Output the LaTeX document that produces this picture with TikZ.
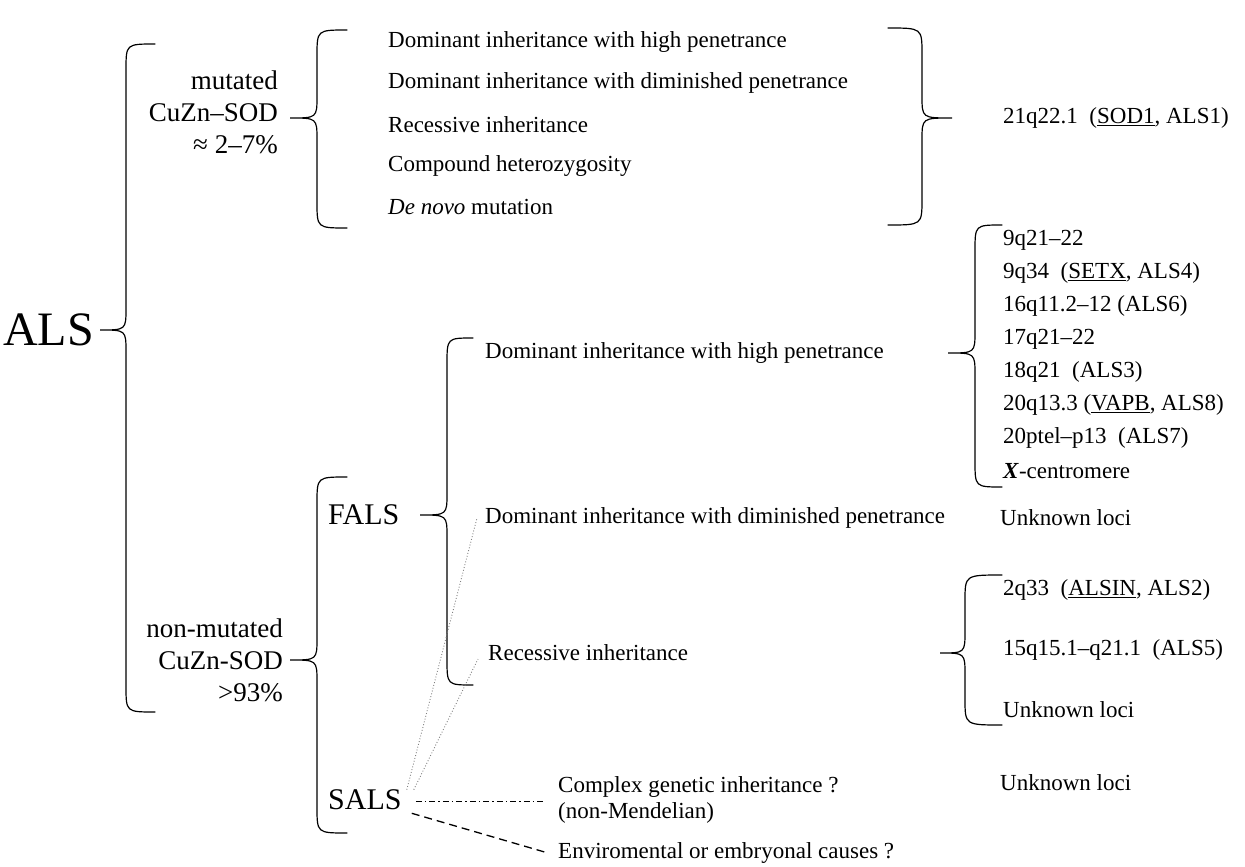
\documentclass[tikz,border=0pt]{standalone}
\usepackage{fontspec}
\setmainfont{Liberation Serif}
\usetikzlibrary{positioning}

% brace: end x, stem x, tip x, top y, tip y, bottom y
\newcommand{\curlybrace}[6]{%
\draw[braceline] (#1,#4) .. controls (#2,#4) .. (#2,#4+26) -- (#2,#5-22) .. controls (#2,#5) .. (#3,#5)
  .. controls (#2,#5) .. (#2,#5+22) -- (#2,#6-26) .. controls (#2,#6) .. (#1,#6);}

\tikzset{
  braceline/.style={line width=1.2pt, line cap=round},
  txt/.style={font=\fontsize{23}{26}\selectfont, inner sep=0pt, anchor=west},
  grp/.style={font=\fontsize{27}{32}\selectfont, inner sep=0pt, anchor=east, align=right},
  cls/.style={font=\fontsize{30}{34}\selectfont, inner sep=0pt, anchor=west},
}

\begin{document}
\begin{tikzpicture}[x=1pt,y=-1pt]
\useasboundingbox (0,0) rectangle (1245,867);

\node[font=\fontsize{48}{52}\selectfont, inner sep=0pt, anchor=west] (als) at (3,330) {ALS};
\curlybrace{155}{126}{100}{44}{330}{712}

% mutated branch
\node[grp] (mut) at (278,112) {mutated\\CuZn–SOD\\≈ 2–7\%};
\curlybrace{347}{317}{290}{30}{118}{228}
\node[txt] (m1) at (388,42) {Dominant inheritance with high penetrance};
\node[txt] (m2) at (388,83) {Dominant inheritance with diminished penetrance};
\node[txt] (m3) at (388,125) {Recessive inheritance};
\node[txt] (m4) at (388,166) {Compound heterozygosity};
\node[txt] (m5) at (388,207) {\textit{De novo} mutation};
\curlybrace{888}{922}{952}{28}{118}{225}
\node[txt] (sod) at (1003,118) {21q22.1\ \ (\underline{SOD1}, ALS1)};

% non-mutated branch
\node[grp] (nonmut) at (283,660) {non-mutated\\CuZn-SOD\\>93\%};
\curlybrace{347}{317}{290}{477}{660}{833}
\node[cls] (fals) at (328,515) {FALS};
\node[cls] (sals) at (328,800) {SALS};
\curlybrace{473}{447}{420}{338}{515}{685}

\node[txt] (hp) at (485,353) {Dominant inheritance with high penetrance};
\curlybrace{1002}{975}{948}{225}{353}{487}
\node[txt] (l1) at (1003,240) {9q21–22};
\node[txt] (l2) at (1003,273) {9q34\ \ (\underline{SETX}, ALS4)};
\node[txt] (l3) at (1003,306) {16q11.2–12 (ALS6)};
\node[txt] (l4) at (1003,339) {17q21–22};
\node[txt] (l5) at (1003,372) {18q21\ \ (ALS3)};
\node[txt] (l6) at (1003,405) {20q13.3 (\underline{VAPB}, ALS8)};
\node[txt] (l7) at (1003,438) {20ptel–p13\ \ (ALS7)};
\node[txt] (l8) at (1003,471) {\textbf{\textit{X}}-centromere};

\node[txt] (dp) at (485,518) {Dominant inheritance with diminished penetrance};
\node[txt] (dpl) at (1000,518) {Unknown loci};

\node[txt] (rec) at (488,653) {Recessive inheritance};
\curlybrace{1002}{965}{940}{575}{653}{725}
\node[txt] (r1) at (1003,590) {2q33\ \ (\underline{ALSIN}, ALS2)};
\node[txt] (r2) at (1003,650) {15q15.1–q21.1\ \ (ALS5)};
\node[txt] (r3) at (1003,710) {Unknown loci};

\node[txt, align=left] (cpx) at (558,800) {Complex genetic inheritance ?\\(non-Mendelian)};
\node[txt] (cpxl) at (1000,783) {Unknown loci};
\node[txt] (env) at (558,853) {Enviromental or embryonal causes ?};

\draw[gray, line width=0.9pt, dotted] ([xshift=5pt]sals.north east) -- ([xshift=-8pt]dp.west);
\draw[gray, line width=0.9pt, dotted] ([xshift=12pt]sals.north east) -- ([xshift=-10pt,yshift=-6pt]rec.west);
\draw[line width=1pt, dash pattern=on 6pt off 3pt on 1.5pt off 3pt] ([xshift=14pt,yshift=-1pt]sals.east) -- ([xshift=-13pt,yshift=-1pt]cpx.west);
\draw[line width=1.3pt, dash pattern=on 8pt off 5pt] ([xshift=10pt,yshift=-3pt]sals.south east) -- ([xshift=-10pt]env.west);
\end{tikzpicture}
\end{document}
